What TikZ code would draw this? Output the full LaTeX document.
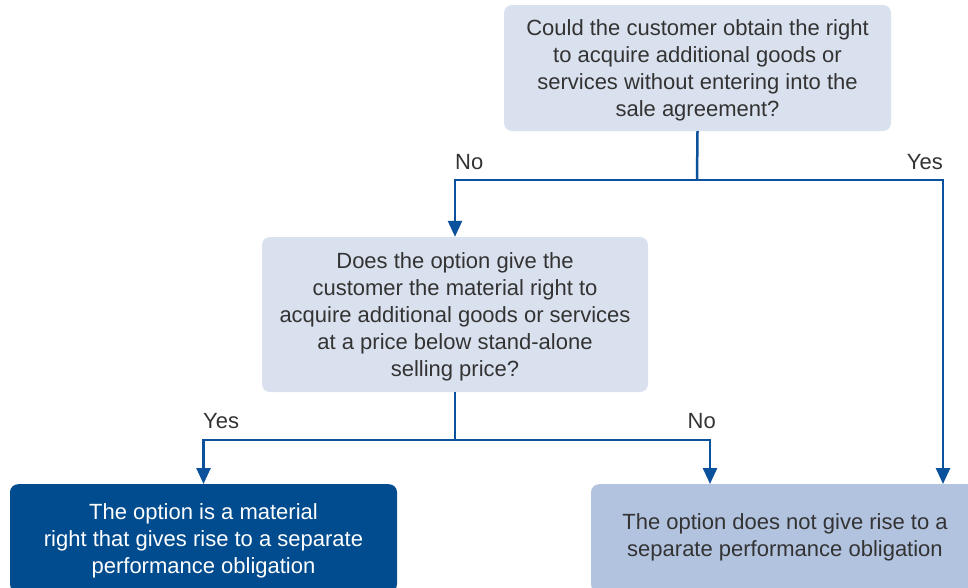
\documentclass[tikz,border=0pt]{standalone}
\usepackage{fontspec}
\setmainfont{Liberation Sans}
\usetikzlibrary{arrows.meta}
\definecolor{boxlight}{HTML}{DAE1EE}
\definecolor{boxmid}{HTML}{B2C3DF}
\definecolor{boxdark}{HTML}{004C8F}
\definecolor{flowline}{HTML}{0B519B}
\definecolor{textgrey}{HTML}{333333}

\begin{document}
\begin{tikzpicture}[x=1pt,y=-1pt]
    \tikzstyle{every node}+=[inner sep=0pt, text=textgrey, font=\fontsize{22}{27}\selectfont]
    \tikzstyle{question}=[fill=boxlight, rounded corners=8pt, align=center, text depth=0pt]
    \tikzstyle{outcome}=[rounded corners=8pt, align=center, minimum width=387pt, minimum height=108pt, anchor=north]
    \tikzstyle{link}=[draw=flowline, line width=2.5pt]
    \tikzstyle{linkarrow}=[link, -{Triangle[width=14pt,length=16pt]}]
    \useasboundingbox (0,0) rectangle (968,587);
    \node [question, minimum width=387pt, minimum height=126pt] (q1) at (697.5,68) {Could the customer obtain the right\\to acquire additional goods or\\services without entering into the\\sale agreement?};
    \node [question, minimum width=386pt, minimum height=155pt] (q2) at (455,314.5) {Does the option give the\\customer the material right to\\acquire additional goods or services\\at a price below stand-alone\\selling price?};
    \node [outcome, fill=boxdark, text=white, text depth=0pt] (yesbox) at (203.5,484) {The option is a material\\right that gives rise to a separate\\performance obligation};
    \node [outcome, fill=boxmid, minimum width=388pt, text depth=6pt] (nobox) at (785,484) {The option does not give rise to a\\separate performance obligation};
    \coordinate (j1) at (697,180);
    \coordinate (j2) at (455,440);
    \coordinate (r1) at (943,484);
    \coordinate (r2) at (710,484);
    \draw [link] (q1.south) -- (j1);
    \draw [linkarrow] (j1) -| (q2.north);
    \draw [linkarrow] (j1) -| (r1);
    \draw [link] (q2.south) -- (j2);
    \draw [linkarrow] (j2) -| (yesbox.north);
    \draw [linkarrow] (j2) -| (r2);
    \node [anchor=west] (lno1) at (455,162) {No};
    \node [anchor=east] (lyes1) at (943,162) {Yes};
    \node [anchor=west] (lyes2) at (203,421) {Yes};
    \node [anchor=east] (lno2) at (716,421) {No};
\end{tikzpicture}
\end{document}
